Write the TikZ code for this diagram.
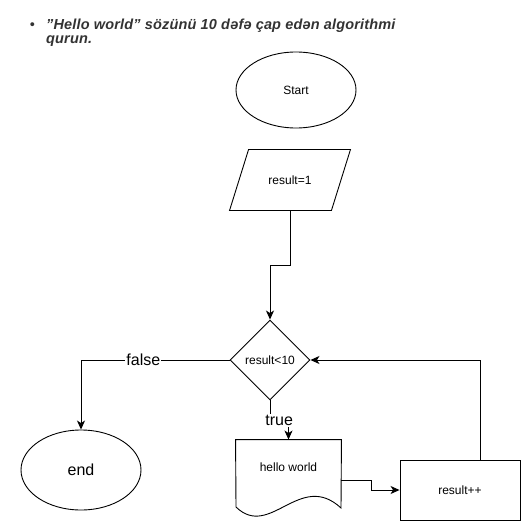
\documentclass[tikz,border=0pt]{standalone}
\usepackage{fontspec}
\setmainfont{Liberation Sans}
\usetikzlibrary{arrows.meta,shapes.geometric}

\begin{document}
\begin{tikzpicture}[
            x=1pt, y=-1pt,
            >={Stealth[length=9pt,width=8pt,inset=2.5pt]}, line width=0.9pt,
            every node/.style={font=\fontsize{12}{14}\selectfont, inner sep=0pt},
            terminal/.style={draw, ellipse, minimum width=120pt},
            decision/.style={draw, diamond, minimum size=80pt},
            process/.style={draw, rectangle, minimum width=120pt, minimum height=60pt},
            lbl/.style={fill=white, font=\fontsize{16}{18}\selectfont, inner sep=1pt}
        ]
        \useasboundingbox (0,0) rectangle (521,521);
        \node[anchor=north west, align=left, text=black!80,
            font=\fontsize{14.5}{14.3}\selectfont\bfseries\itshape\addfontfeature{LetterSpace=1.2}] (title) at (29.5,18.5)
            {\makebox[16.2pt][l]{\mdseries\upshape\textbullet}\symbol{34}Hello world\symbol{34} sözünü 10 dəfə çap edən algorithmi\\\hspace{16.2pt}qurun.};
        \node[terminal, minimum height=76pt] (start) at (296,90) {Start};
        \node[minimum width=101pt, minimum height=60pt] (init) at (290,180) {result=1};
        \node[decision] (cond) at (270,360) {result<10};
        \node[terminal, minimum height=80pt, font=\fontsize{16}{18}\selectfont] (stop) at (81,470) {end};
        \node[minimum width=105pt, minimum height=54pt] (out) at (288.5,467) {hello world};
        \node[process] (inc) at (460,490) {result++};
        % parallelogram and document outlines
        \draw ([xshift=9.5pt]init.north west) -- ([xshift=9.5pt]init.north east)
            -- ([xshift=-9.5pt]init.south east) -- ([xshift=-9.5pt]init.south west) -- cycle;
        \draw (out.north west) -- (236,507) .. controls (270,540) and (300,470) .. (341,508) -- (out.north east) -- cycle;
        \draw[->] (init.south) -- ++(0,55) -| (cond.north);
        \draw[->] (cond.west) -| node[lbl, pos=0.29] {false} (stop.north);
        \draw[->] (cond.south) -- ++(0,20) -| node[lbl, pos=0.25] {true} (out.north);
        \draw[->] ([yshift=-13pt]out.east) -- ++(30,0) |- (inc.west);
        \draw[->] ([xshift=20pt]inc.north) |- (cond.east);
\end{tikzpicture}
\end{document}
